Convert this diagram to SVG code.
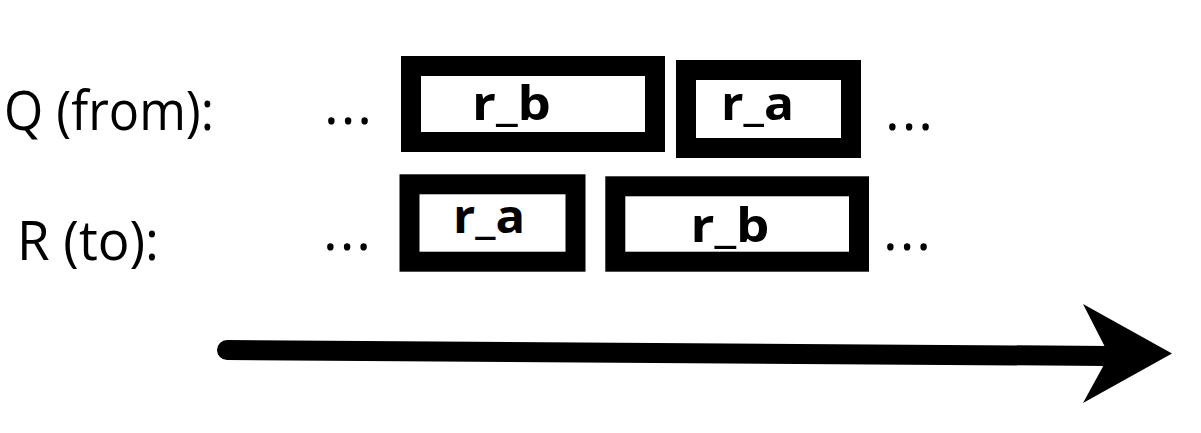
<svg xmlns="http://www.w3.org/2000/svg" width="1201" height="433" viewBox="0 0 1201 433">
  <style>
    .box { fill: #fff; stroke: #000; stroke-width: 20; }
    .lbl { font-family: "Open Sans", "Noto Sans", "Liberation Sans", sans-serif; font-size: 54px; fill: #000; }
    .name { font-family: "Open Sans", "Noto Sans", "Liberation Sans", sans-serif; font-size: 47px; font-weight: bold; fill: #000; }
    .dots { font-family: "Open Sans", "Noto Sans", "Liberation Sans", sans-serif; font-size: 56px; fill: #000; }
  </style>
  <rect width="1201" height="433" fill="#fff"/>
  <g id="labels">
    <text class="lbl" x="4" y="130" textLength="210" lengthAdjust="spacingAndGlyphs">Q (from):</text>
    <text class="lbl" x="17" y="260" textLength="142" lengthAdjust="spacingAndGlyphs">R (to):</text>
    <text class="dots" x="324" y="124" textLength="48" lengthAdjust="spacing">...</text>
    <text class="dots" x="885" y="129.7" textLength="48" lengthAdjust="spacing">...</text>
    <text class="dots" x="323" y="249.7" textLength="48" lengthAdjust="spacing">...</text>
    <text class="dots" x="883" y="249.7" textLength="48" lengthAdjust="spacing">...</text>
  </g>
  <g id="q-r_b">
    <rect class="box" x="411" y="66" width="244" height="76"/>
    <text class="name" x="472" y="120" textLength="79" lengthAdjust="spacingAndGlyphs">r_b</text>
  </g>
  <g id="q-r_a">
    <rect class="box" x="686" y="70" width="165" height="78"/>
    <text class="name" x="721" y="120" textLength="73" lengthAdjust="spacingAndGlyphs">r_a</text>
  </g>
  <g id="r-r_a">
    <rect class="box" x="409.5" y="184.3" width="166" height="77.4"/>
    <text class="name" x="453" y="232.7" textLength="72" lengthAdjust="spacingAndGlyphs">r_a</text>
  </g>
  <g id="r-r_b">
    <rect class="box" x="615.3" y="186.3" width="243.7" height="75.4"/>
    <text class="name" x="690.5" y="241.7" textLength="79" lengthAdjust="spacingAndGlyphs">r_b</text>
  </g>
  <g id="connectors">
    <line x1="227" y1="350" x2="1108" y2="356" stroke="#000" stroke-width="20" stroke-linecap="round"/>
    <polygon points="1083,304 1172,353.5 1083,403 1103,366.5 1105,347" fill="#000"/>
  </g>
</svg>
